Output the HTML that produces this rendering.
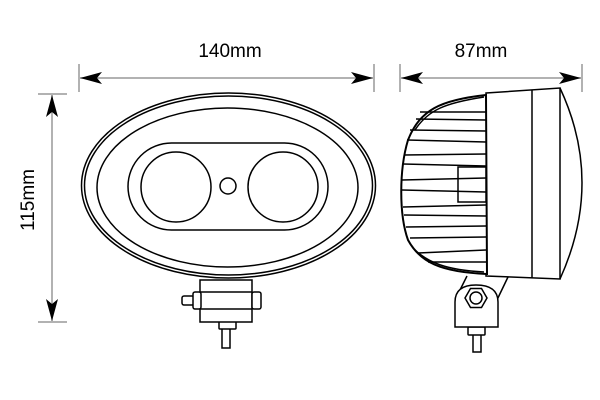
<!DOCTYPE html>
<html><head><style>body{margin:0;background:#fff}svg{display:block}</style></head><body>
<svg width="600" height="400" viewBox="0 0 600 400" xmlns="http://www.w3.org/2000/svg" font-family="Liberation Sans, sans-serif">
<defs><marker id="a" viewBox="0 0 22 12" refX="22" refY="6" markerWidth="22" markerHeight="12" markerUnits="userSpaceOnUse" orient="auto-start-reverse"><path d="M0,0 L22,6 L0,12 L5,6Z" fill="#000"/></marker></defs>
<g stroke="#999" stroke-width="1.5" fill="none">
<line x1="79" y1="64" x2="79" y2="92"/><line x1="374" y1="64" x2="374" y2="92"/>
<line x1="80" y1="78" x2="373" y2="78" marker-start="url(#a)" marker-end="url(#a)"/>
<line x1="400" y1="64" x2="400" y2="92"/><line x1="582" y1="64" x2="582" y2="92"/>
<line x1="401" y1="78" x2="581" y2="78" marker-start="url(#a)" marker-end="url(#a)"/>
<line x1="38" y1="94" x2="67" y2="94"/><line x1="38" y1="322" x2="67" y2="322"/>
<line x1="52" y1="95" x2="52" y2="321" marker-start="url(#a)" marker-end="url(#a)"/>
</g>
<text x="230" y="57" font-size="19" text-anchor="middle">140mm</text>
<text x="481" y="57" font-size="19" text-anchor="middle">87mm</text>
<text transform="translate(34,200) rotate(-90)" font-size="19" text-anchor="middle">115mm</text>
<g stroke="#000" stroke-width="1.5" fill="#fff">
<rect x="182" y="296" width="12" height="9" rx="2"/>
<rect x="222" y="328" width="8" height="20"/>
<rect x="219" y="314" width="17" height="8" rx="1"/><rect x="219" y="321" width="17" height="8" rx="1"/>
<rect x="200" y="280" width="52" height="42"/>
<line x1="200" y1="292" x2="252" y2="292"/><line x1="200" y1="309" x2="252" y2="309"/>
<rect x="193" y="292" width="8" height="17" rx="2"/><rect x="252" y="292" width="9" height="17" rx="2"/>
<ellipse cx="228.5" cy="185.5" rx="147" ry="92.5"/>
<ellipse cx="228.5" cy="185.5" rx="144" ry="89.5"/>
<ellipse cx="227.5" cy="187.5" rx="130.5" ry="79.5"/>
<rect x="128" y="143" width="200" height="87" rx="43.5"/>
<circle cx="176" cy="187" r="35"/><circle cx="283" cy="187" r="35"/><circle cx="228" cy="186" r="8"/>
<path d="M467,276 L458,294 M508,277 L496,302"/>
<rect x="473" y="333" width="8" height="19"/>
<rect x="468" y="327" width="17" height="8" rx="1"/>
<path d="M455,327 L455,302 Q455,285 476,285 Q498,285 498,302 L498,327 Z"/>
<polygon points="487,298 481.5,307.5 470.5,307.5 465,298 470.5,288.5 481.5,288.5"/>
<circle cx="476" cy="298" r="6"/>
<path d="M560,88 Q604,182 560,279"/>
<path d="M486,93 L560,88 L560,279 L486,276 Z"/>
<line x1="532" y1="90" x2="532" y2="278"/>
<path d="M486,95 C440,100 420,110 408,140 C399,170 399,215 408,240 C420,262 440,272 487,274 Z" stroke-width="2"/>
<path d="M484,97 C445,103 428,110 415,130 M484,272 C445,270 428,262 415,250" fill="none"/>
<g fill="none">
<line x1="420" y1="112" x2="486" y2="112"/><line x1="416" y1="119" x2="486" y2="120"/>
<line x1="410" y1="130" x2="486" y2="131"/><line x1="407" y1="140" x2="486" y2="142"/>
<line x1="404" y1="155" x2="486" y2="154"/><line x1="403" y1="164" x2="486" y2="166"/>
<line x1="402" y1="180" x2="486" y2="178"/><line x1="402" y1="190" x2="486" y2="192"/>
<line x1="403" y1="207" x2="486" y2="205"/><line x1="404" y1="215" x2="486" y2="216"/>
<line x1="406" y1="227" x2="486" y2="226"/><line x1="410" y1="238" x2="486" y2="237"/>
<line x1="418" y1="253" x2="486" y2="250"/><line x1="428" y1="262" x2="486" y2="262"/>
<rect x="458" y="167" width="28" height="35"/>
</g>
</g>
</svg>
</body></html>
